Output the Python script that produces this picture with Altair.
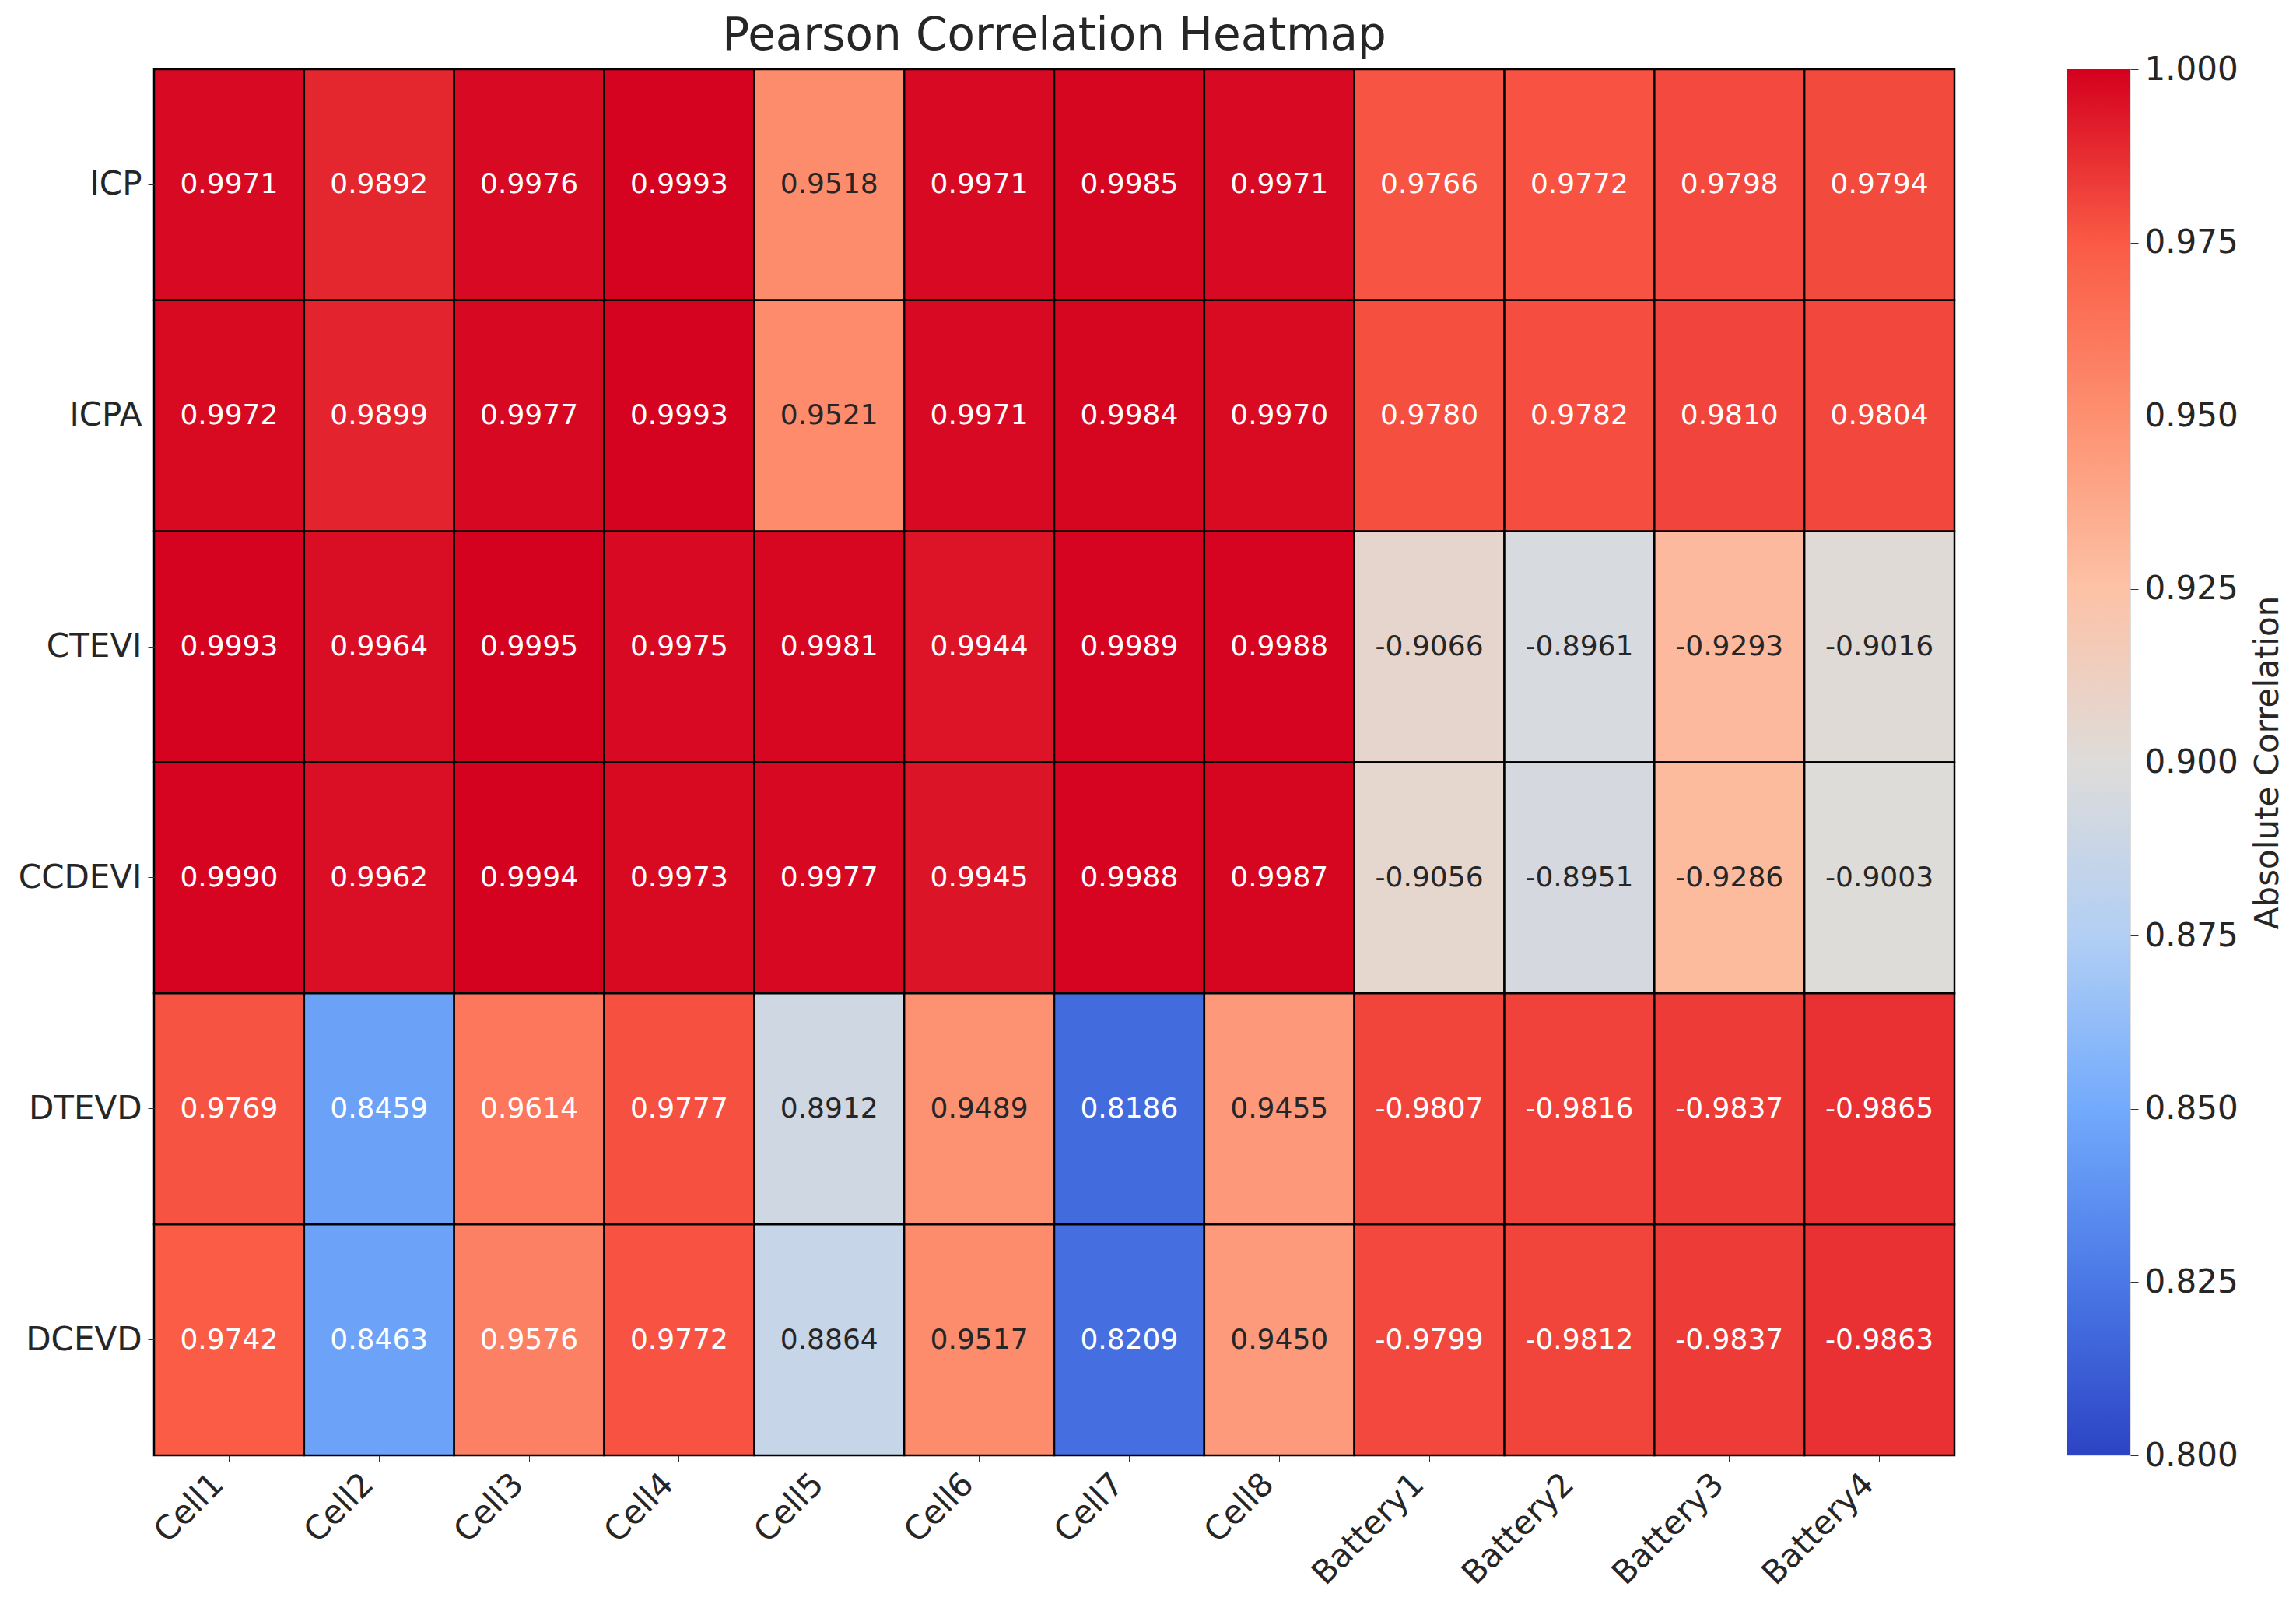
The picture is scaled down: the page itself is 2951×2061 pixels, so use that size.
import altair as alt
import pandas as pd

rows = ["ICP", "ICPA", "CTEVI", "CCDEVI", "DTEVD", "DCEVD"]
cols = ["Cell1", "Cell2", "Cell3", "Cell4", "Cell5", "Cell6", "Cell7", "Cell8",
        "Battery1", "Battery2", "Battery3", "Battery4"]

icp    = [0.9971, 0.9892, 0.9976, 0.9993, 0.9518, 0.9971, 0.9985, 0.9971, 0.9766, 0.9772, 0.9798, 0.9794]
icpa   = [0.9972, 0.9899, 0.9977, 0.9993, 0.9521, 0.9971, 0.9984, 0.9970, 0.9780, 0.9782, 0.9810, 0.9804]
ctevi  = [0.9993, 0.9964, 0.9995, 0.9975, 0.9981, 0.9944, 0.9989, 0.9988, -0.9066, -0.8961, -0.9293, -0.9016]
ccdevi = [0.9990, 0.9962, 0.9994, 0.9973, 0.9977, 0.9945, 0.9988, 0.9987, -0.9056, -0.8951, -0.9286, -0.9003]
dtevd  = [0.9769, 0.8459, 0.9614, 0.9777, 0.8912, 0.9489, 0.8186, 0.9455, -0.9807, -0.9816, -0.9837, -0.9865]
dcevd  = [0.9742, 0.8463, 0.9576, 0.9772, 0.8864, 0.9517, 0.8209, 0.9450, -0.9799, -0.9812, -0.9837, -0.9863]

cbar_ticks = [0.800, 0.825, 0.850, 0.875, 0.900, 0.925, 0.950, 0.975, 1.000]
palette = ["#2c44c4", "#4a78e6", "#72aafc", "#b2cff4", "#dedcda",
           "#fdc2a6", "#fd9070", "#fa5a45", "#d4001e"]

matrix = [icp, icpa, ctevi, ccdevi, dtevd, dcevd]
records = []
for r, vals in zip(rows, matrix):
    for c, v in zip(cols, vals):
        records.append({"row": r, "col": c, "value": v})
df = pd.DataFrame(records)

FONT = "DejaVu Sans"

color_scale = alt.Scale(domain=cbar_ticks, range=palette, interpolate="rgb", clamp=True)

base = alt.Chart(df).transform_calculate(
    absval="abs(datum.value)",
    label="replace(format(datum.value, '.4f'), '\u2212', '-')",
).encode(
    x=alt.X("col:N", sort=cols, title=None,
            axis=alt.Axis(labelAngle=315, labelAlign="right", labelBaseline="middle",
                          labelFontSize=42, labelFont=FONT, labelColor="#262626",
                          labelLimit=0, labelOffset=-14,
                          tickSize=8, tickColor="#333333", labelPadding=22,
                          domain=False)),
    y=alt.Y("row:N", sort=rows, title=None,
            axis=alt.Axis(labelFontSize=42, labelFont=FONT, labelColor="#262626",
                          tickSize=8, tickColor="#333333", labelPadding=8,
                          domain=False)),
)

rects = base.mark_rect(stroke="black", strokeWidth=2.5).encode(
    color=alt.Color("absval:Q", scale=color_scale, legend=None)
)

texts = base.mark_text(fontSize=36, font=FONT).encode(
    text=alt.Text("label:N"),
    color=alt.condition("abs(datum.value) > 0.86 && abs(datum.value) < 0.955",
                        alt.value("#262626"), alt.value("white")),
)

heat = alt.layer(rects, texts).properties(
    width=2314, height=1781,
    title=alt.TitleParams("Pearson Correlation Heatmap", fontSize=58, font=FONT,
                          fontWeight="normal", color="#262626", anchor="middle", offset=12),
)

cb_df = pd.DataFrame({"lo": [min(cbar_ticks)], "hi": [max(cbar_ticks)]})
n = len(palette)
stops = [alt.GradientStop(color=c, offset=i / (n - 1)) for i, c in enumerate(palette)]

cbar = alt.Chart(cb_df).mark_rect(
    fill=alt.Gradient(gradient="linear", stops=stops, x1=0, x2=0, y1=1, y2=0)
).encode(
    y=alt.Y("lo:Q", scale=alt.Scale(domain=[min(cbar_ticks), max(cbar_ticks)], nice=False, zero=False),
            axis=alt.Axis(orient="right", values=cbar_ticks, format=".3f",
                          title="Absolute Correlation", titleAngle=270, titleBaseline="top",
                          titleFontSize=42,
                          titleFont=FONT, titleFontWeight="normal", titleColor="#262626",
                          titlePadding=18,
                          labelFontSize=42, labelFont=FONT, labelColor="#262626",
                          tickSize=10, tickColor="#333333", labelPadding=8,
                          domain=False, grid=False)),
    y2="hi:Q",
).properties(width=81, height=1781)

chart = alt.hconcat(heat, cbar, spacing=145, bounds="flush").properties(
    padding={"left": 14, "top": 9, "right": 5, "bottom": 5}
).configure_view(
    stroke="#c8c8c8", strokeWidth=3
).configure(background="white")

chart.save("out.html", embed_options={"renderer": "svg", "actions": False})
